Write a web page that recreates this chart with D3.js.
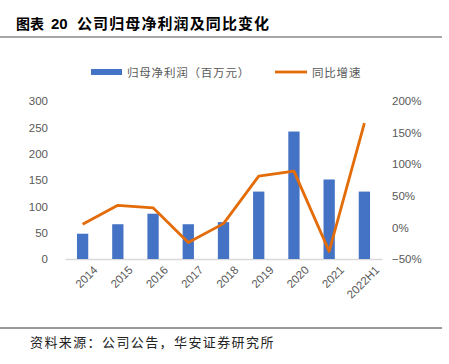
<!DOCTYPE html>
<html>
<head>
<meta charset="utf-8">
<script src="https://cdn.jsdelivr.net/npm/d3@7"></script>
<style>
  body { margin: 0; background: #fff; }
  svg { display: block; font-family: "Noto Sans CJK SC", "Liberation Sans", Arial, sans-serif; }
</style>
</head>
<body>
<div id="chart"></div>
<script>
const categories = ["2014", "2015", "2016", "2017", "2018", "2019", "2020", "2021", "2022H1"];
const profit = [48, 66, 86, 66, 70, 128, 242, 151, 128];
const growth = [5, 35, 31, -24, 6, 81, 89, -38, 165];
const leftTicks = [0, 50, 100, 150, 200, 250, 300];
const rightTicks = [-50, 0, 50, 100, 150, 200];

const width = 449;
const height = 364;
const margin = { top: 101, right: 67, bottom: 105, left: 65 };

const svg = d3.select("#chart")
  .append("svg")
  .attr("width", width)
  .attr("height", height);

// title
const title = svg.append("text")
  .attr("y", 29)
  .attr("font-size", 14)
  .attr("font-weight", "bold")
  .attr("fill", "#000");
title.append("tspan").attr("x", 16).text("图表");
title.append("tspan").attr("x", 51).attr("font-family", "'Liberation Sans', Arial, sans-serif")
  .attr("font-size", 15).text("20");
title.append("tspan").attr("x", 77).attr("font-size", 15).attr("letter-spacing", 1.1)
  .text("公司归母净利润及同比变化");

svg.append("line")
  .attr("x1", 0).attr("x2", 442)
  .attr("y1", 37).attr("y2", 37)
  .attr("stroke", "#888").attr("stroke-width", 1.5);

const x = d3.scaleBand()
  .domain(categories)
  .range([margin.left, width - margin.right])
  .paddingInner(0.68)
  .paddingOuter(0.34);

const yLeft = d3.scaleLinear().domain([0, 300]).range([height - margin.bottom, margin.top]);
const yRight = d3.scaleLinear().domain([-50, 200]).range([height - margin.bottom, margin.top]);

const tickColor = "#595959";

// left axis
const gl = svg.append("g")
  .attr("transform", `translate(${margin.left - 10},0)`)
  .call(d3.axisLeft(yLeft).tickValues(leftTicks).tickSize(0).tickPadding(7));
gl.select(".domain").remove();
gl.selectAll("text").attr("font-size", 11.5).attr("fill", tickColor)
  .attr("font-family", "'Liberation Sans', Arial, sans-serif");

// right axis
const gr = svg.append("g")
  .attr("transform", `translate(${width - margin.right + 10},0)`)
  .call(d3.axisRight(yRight).tickValues(rightTicks).tickSize(0).tickPadding(0)
    .tickFormat(d => (d < 0 ? "−" + Math.abs(d) : d) + "%"));
gr.select(".domain").remove();
gr.selectAll("text").attr("font-size", 11.5).attr("fill", tickColor)
  .attr("font-family", "'Liberation Sans', Arial, sans-serif");

// x axis
const gx = svg.append("g")
  .attr("transform", `translate(0,${height - margin.bottom})`)
  .call(d3.axisBottom(x).tickSize(0).tickPadding(8));
gx.select(".domain").attr("stroke", "#d9d9d9").attr("stroke-width", 1.3);
gx.selectAll("text")
  .attr("font-size", 11.5)
  .attr("fill", tickColor)
  .attr("font-family", "'Liberation Sans', Arial, sans-serif")
  .attr("text-anchor", "end")
  .attr("dy", "0.5em")
  .attr("transform", "translate(6,2) rotate(-45)");

// bars
svg.append("g")
  .selectAll("rect")
  .data(profit)
  .join("rect")
  .attr("x", (d, i) => x(categories[i]))
  .attr("y", d => yLeft(d))
  .attr("width", x.bandwidth())
  .attr("height", d => yLeft(0) - yLeft(d))
  .attr("fill", "#4472c4");

// growth line
const line = d3.line()
  .x((d, i) => x(categories[i]) + x.bandwidth() / 2)
  .y(d => yRight(d));

svg.append("path")
  .datum(growth)
  .attr("d", line)
  .attr("fill", "none")
  .attr("stroke", "#e36c09")
  .attr("stroke-width", 2.8)
  .attr("stroke-linejoin", "round");

// legend
const legend = svg.append("g").attr("font-size", 11.5).attr("letter-spacing", 0.8);
legend.append("rect")
  .attr("x", 91).attr("y", 69).attr("width", 31).attr("height", 6)
  .attr("fill", "#4472c4");
legend.append("text")
  .attr("x", 127).attr("y", 76.5)
  .attr("fill", tickColor)
  .text("归母净利润（百万元）");
legend.append("line")
  .attr("x1", 275).attr("x2", 307).attr("y1", 72).attr("y2", 72)
  .attr("stroke", "#e36c09").attr("stroke-width", 2.8);
legend.append("text")
  .attr("x", 312).attr("y", 76.5)
  .attr("fill", tickColor)
  .text("同比增速");

// footer
svg.append("line")
  .attr("x1", 0).attr("x2", 442)
  .attr("y1", 328).attr("y2", 328)
  .attr("stroke", "#333").attr("stroke-width", 1);

svg.append("text")
  .attr("x", 30)
  .attr("y", 347)
  .attr("font-size", 13)
  .attr("letter-spacing", 1.4)
  .attr("fill", "#222")
  .text("资料来源：公司公告，华安证券研究所");
</script>
</body>
</html>
